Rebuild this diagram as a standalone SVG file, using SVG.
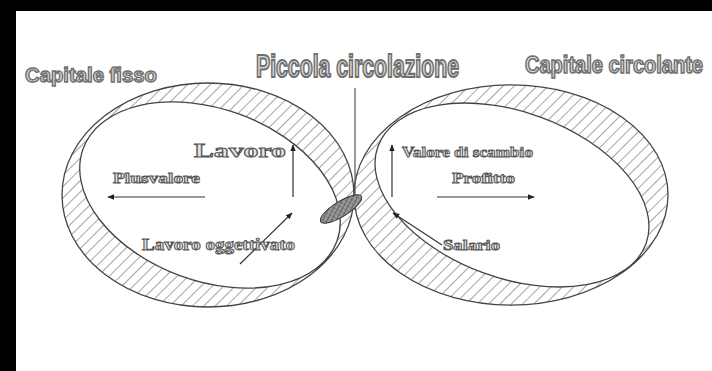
<svg xmlns="http://www.w3.org/2000/svg" width="712" height="371" viewBox="0 0 712 371">
<defs>
<pattern id="hatch" width="8" height="8" patternUnits="userSpaceOnUse" patternTransform="rotate(45)">
<rect width="8" height="8" fill="#fff"/>
<line x1="0" y1="0" x2="0" y2="8" stroke="#666" stroke-width="1.2"/>
</pattern>
<pattern id="blobp" width="4" height="4" patternUnits="userSpaceOnUse" patternTransform="rotate(-30)">
<rect width="4" height="4" fill="#999"/>
<line x1="0" y1="0" x2="4" y2="0" stroke="#333" stroke-width="1"/>
<line x1="0" y1="0" x2="0" y2="4" stroke="#555" stroke-width="0.8"/>
</pattern>
<marker id="ah" viewBox="0 0 10 10" refX="9" refY="5" markerWidth="7" markerHeight="7" markerUnits="userSpaceOnUse" orient="auto">
<path d="M0,1 L10,5 L0,9 Z" fill="#222"/>
</marker>
<style>
.ring{fill:url(#hatch);fill-rule:evenodd;stroke:#444;stroke-width:1.3}
.title{font-family:"Liberation Sans",Arial,sans-serif;font-weight:bold;fill:#d8d8d8;stroke:#707070;stroke-width:1.4}
.lbl{font-family:"Liberation Serif","Times New Roman",serif;font-weight:bold;fill:#e4e4e4;stroke:#555;stroke-width:0.9}
.arr{stroke:#333;stroke-width:1.2;fill:none;marker-end:url(#ah)}
</style>
</defs>
<rect x="0" y="0" width="712" height="371" fill="#fff"/>
<rect x="0" y="0" width="712" height="11" fill="#000"/>
<rect x="0" y="0" width="16" height="371" fill="#000"/>

<g id="capitale-fisso">
<path class="ring" d="M62,195 A146,112 0 1 0 354,195 A146,112 0 1 0 62,195 Z M83.1,148.8 A135,86 20 1 0 336.9,241.2 A135,86 20 1 0 83.1,148.8 Z"/>
<text class="title" x="25" y="82" font-size="20" textLength="132" lengthAdjust="spacingAndGlyphs">Capitale fisso</text>
</g>

<g id="capitale-circolante">
<path class="ring" d="M354,195 A157,110 0 1 0 668,195 A157,110 0 1 0 354,195 Z M378,146.2 A142.6,83 20 1 0 646,243.8 A142.6,83 20 1 0 378,146.2 Z"/>
<text class="title" transform="translate(525 73) scale(1 1.15)" x="0" y="0" font-size="20" textLength="178" lengthAdjust="spacingAndGlyphs">Capitale circolante</text>
</g>

<g id="piccola-circolazione">
<line x1="355" y1="88" x2="355" y2="210" stroke="#555" stroke-width="1.2"/>
<ellipse cx="341" cy="209" rx="24" ry="7.5" transform="rotate(-32 341 209)" fill="url(#blobp)" stroke="#333" stroke-width="1"/>
<text class="title" transform="translate(256 77) scale(1 1.5)" x="0" y="0" font-size="21" textLength="203" lengthAdjust="spacingAndGlyphs">Piccola circolazione</text>
</g>

<g id="connectors">
<line class="arr" x1="205" y1="197" x2="108" y2="197"/>
<line class="arr" x1="293" y1="197" x2="293" y2="145"/>
<line class="arr" x1="240" y1="264" x2="292" y2="213"/>
<line class="arr" x1="392" y1="197" x2="392" y2="145"/>
<line class="arr" x1="437" y1="197" x2="534" y2="197"/>
<path class="arr" d="M442,245 L393,213"/>
</g>

<g id="lavoro"><text class="lbl" x="194" y="157" font-size="19" textLength="92" lengthAdjust="spacingAndGlyphs">Lavoro</text></g>
<g id="plusvalore"><text class="lbl" x="113" y="183" font-size="15" textLength="87" lengthAdjust="spacingAndGlyphs">Plusvalore</text></g>
<g id="lavoro-oggettivato"><text class="lbl" x="142" y="250" font-size="16" textLength="153" lengthAdjust="spacingAndGlyphs">Lavoro oggettivato</text></g>
<g id="valore-di-scambio"><text class="lbl" x="402" y="157" font-size="15" textLength="131" lengthAdjust="spacingAndGlyphs">Valore di scambio</text></g>
<g id="profitto"><text class="lbl" x="452" y="183" font-size="15" textLength="63" lengthAdjust="spacingAndGlyphs">Profitto</text></g>
<g id="salario"><text class="lbl" x="443" y="250" font-size="15" textLength="57" lengthAdjust="spacingAndGlyphs">Salario</text></g>
</svg>
